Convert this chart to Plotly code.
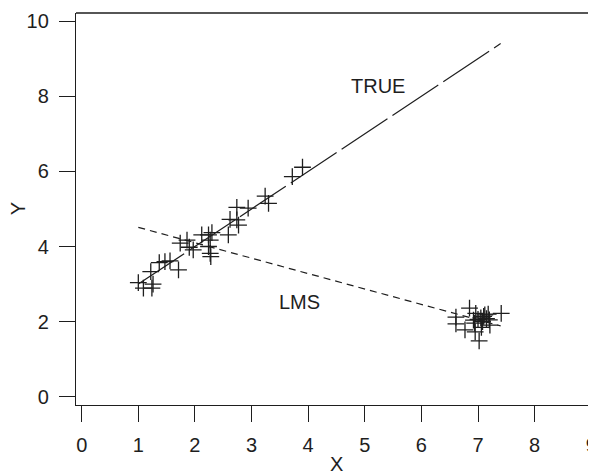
import plotly.graph_objects as go

# Good points (on the true line)
good_x = [1.00, 1.09, 1.24, 1.26, 1.22, 1.37, 1.47, 1.56, 1.71, 1.74,
          1.86, 1.90, 1.97, 2.12, 2.24, 2.30, 2.27, 2.24, 2.27, 2.28,
          2.59, 2.62, 2.74, 2.77, 2.74, 2.94, 3.24, 3.30, 3.72, 3.90]
good_y = [3.04, 2.89, 2.89, 3.00, 3.33, 3.57, 3.60, 3.62, 3.38, 4.09,
          4.17, 3.98, 3.91, 4.31, 4.31, 4.37, 4.17, 4.00, 3.82, 3.73,
          4.31, 4.72, 4.71, 4.57, 5.04, 5.02, 5.34, 5.15, 5.86, 6.11]

# Bad leverage points (cluster)
bad_x = [6.61, 6.61, 6.77, 6.85, 6.92, 6.95, 7.02, 7.12, 7.21, 7.41,
         6.96, 7.00, 7.05, 7.08, 7.10, 7.15, 7.18, 6.94, 7.06, 7.20]
bad_y = [2.12, 1.94, 1.78, 2.36, 2.04, 1.73, 1.49, 2.18, 1.91, 2.22,
         2.22, 2.06, 2.10, 2.00, 2.14, 2.08, 2.20, 1.96, 1.85, 2.05]

# Fitted lines
true_x = [1.0, 7.4]
true_y = [3.0, 9.4]
lms_x = [1.0, 7.4]
lms_y = [4.51, 1.886]

x_ticks = [0, 1, 2, 3, 4, 5, 6, 7, 8, 9]
y_ticks = [0, 2, 4, 6, 8, 10]

ink = "#1e1e1e"
font_family = "Liberation Sans, Arial, Helvetica, sans-serif"

fig = go.Figure()

fig.add_trace(go.Scatter(
    x=true_x, y=true_y, mode="lines",
    line=dict(color=ink, width=1.2, dash="55px,6px"),
    hoverinfo="skip", showlegend=False))

fig.add_trace(go.Scatter(
    x=lms_x, y=lms_y, mode="lines",
    line=dict(color=ink, width=1.2, dash="7px,5px"),
    hoverinfo="skip", showlegend=False))

fig.add_trace(go.Scatter(
    x=good_x + bad_x, y=good_y + bad_y, mode="markers",
    marker=dict(symbol="cross-thin", size=12,
                line=dict(color=ink, width=1.3), color=ink),
    showlegend=False))

fig.add_annotation(x=5.24, y=8.28, text="TRUE", showarrow=False,
                   font=dict(size=20, color=ink, family=font_family))
fig.add_annotation(x=3.84, y=2.53, text="LMS", showarrow=False,
                   font=dict(size=20, color=ink, family=font_family))

# Axis titles
fig.add_annotation(xref="paper", yref="paper", x=0.5, y=-0.15,
                   text="X", showarrow=False, yanchor="middle",
                   font=dict(size=20, color=ink, family=font_family))
fig.add_annotation(xref="paper", yref="paper", x=-0.111, y=0.5,
                   text="Y", showarrow=False, textangle=-90,
                   xanchor="center", yanchor="middle",
                   font=dict(size=20, color=ink, family=font_family))

# top border of box
fig.add_shape(type="line", xref="paper", yref="paper",
              x0=0, x1=1, y0=1, y1=1,
              line=dict(color=ink, width=1.3))

# The page body adds an 8px offset; size the figure so the plot box lands
# where it is in the reference (left 76, top 13, bottom 405, right 596).
fig.update_layout(
    width=588, height=465,
    margin=dict(l=68, r=0, t=5, b=68, autoexpand=False),
    paper_bgcolor="white", plot_bgcolor="white",
    font=dict(family=font_family, size=20, color=ink),
    xaxis=dict(range=[-0.1007, 9.084], tickvals=x_ticks,
               ticktext=[str(v) for v in x_ticks],
               showgrid=False, zeroline=False, automargin=False,
               showline=True, linecolor=ink, linewidth=1.3,
               ticks="outside", ticklen=16, tickwidth=1.3, tickcolor=ink,
               ticklabelstandoff=6, ticklabeloverflow="allow",
               tickfont=dict(size=20, color=ink)),
    yaxis=dict(range=[-0.218, 10.215], tickvals=y_ticks,
               ticktext=[str(v) for v in y_ticks],
               showgrid=False, zeroline=False, automargin=False,
               showline=True, linecolor=ink, linewidth=1.3,
               ticks="outside", ticklen=16, tickwidth=1.3, tickcolor=ink,
               ticklabelstandoff=6, ticklabeloverflow="allow",
               tickfont=dict(size=20, color=ink)),
)

fig.write_html("out.html")
